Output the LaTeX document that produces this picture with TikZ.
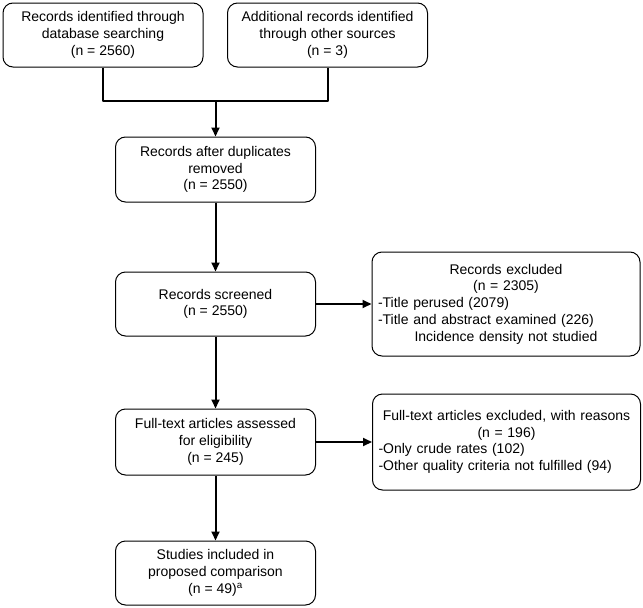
\documentclass[tikz,border=0pt]{standalone}
\usepackage{fontspec}
\setmainfont{Liberation Sans}
\usetikzlibrary{arrows.meta}
\tikzset{
  flowbox/.style={draw, line width=1pt, rounded corners=10pt, align=center,
    minimum width=200pt, minimum height=64pt, inner sep=0pt},
  widebox/.style={flowbox, minimum width=268pt, text width=256pt},
  link/.style={line width=2pt},
}
\begin{document}
\begin{tikzpicture}[x=1pt, y=-1pt, >={Triangle[length=9pt,width=8pt]},
  font=\fontsize{14}{16.7}\selectfont, line join=round]
	\useasboundingbox (0,0) rectangle (643,608);
	\path
	(103,35) coordinate (Db)
	(327.5,35) coordinate (Other)
	(215.5,101) coordinate (Join)
	(215.5,169.5) coordinate (Dup)
	(215.5,304) coordinate (Screen)
	(506,304) coordinate (ExclA)
	(215.5,442) coordinate (Full)
	(506.5,442) coordinate (ExclB)
	(215.5,573) coordinate (Incl)
	;
	\node[flowbox] (db) at (Db) {Records identified through\\database searching\\(n = 2560)};
	\node[flowbox] (other) at (Other) {Additional records identified\\through other sources\\(n = 3)};
	\node[flowbox, minimum height=65pt] (dup) at (Dup) {Records after duplicates\\removed\\(n = 2550)};
	\node[flowbox] (screen) at (Screen) {Records screened\\(n = 2550)};
	\node[widebox, minimum height=104pt] (exclA) at (ExclA) {Records excluded\\(n = 2305)\\
		-Title perused (2079)\hfill\null\\
		-Title and abstract examined (226)\hfill\null\\
		Incidence density not studied\hspace*{14pt}};
	\node[flowbox, minimum height=66pt] (full) at (Full) {Full-text articles assessed\\for eligibility\\(n = 245)};
	\node[widebox, minimum height=96pt] (exclB) at (ExclB) {Full-text articles excluded, with reasons\\(n = 196)\\
		-Only crude rates (102)\hfill\null\\
		-Other quality criteria not fulfilled (94)\hfill\null};
	\node[flowbox] (incl) at (Incl) {Studies included in\\proposed comparison\\(n = 49)\textsuperscript{a}};
	\draw[link] (db.south) |- (Join) -| (other.south);
	\draw[link,->] (Join) -- (dup.north);
	\draw[link,->] (dup) -- (screen);
	\draw[link,->] (screen) -- (full);
	\draw[link,->] (full) -- (incl);
	\draw[link,->] (screen) -- (exclA);
	\draw[link,->] (full) -- (exclB);
\end{tikzpicture}
\end{document}
